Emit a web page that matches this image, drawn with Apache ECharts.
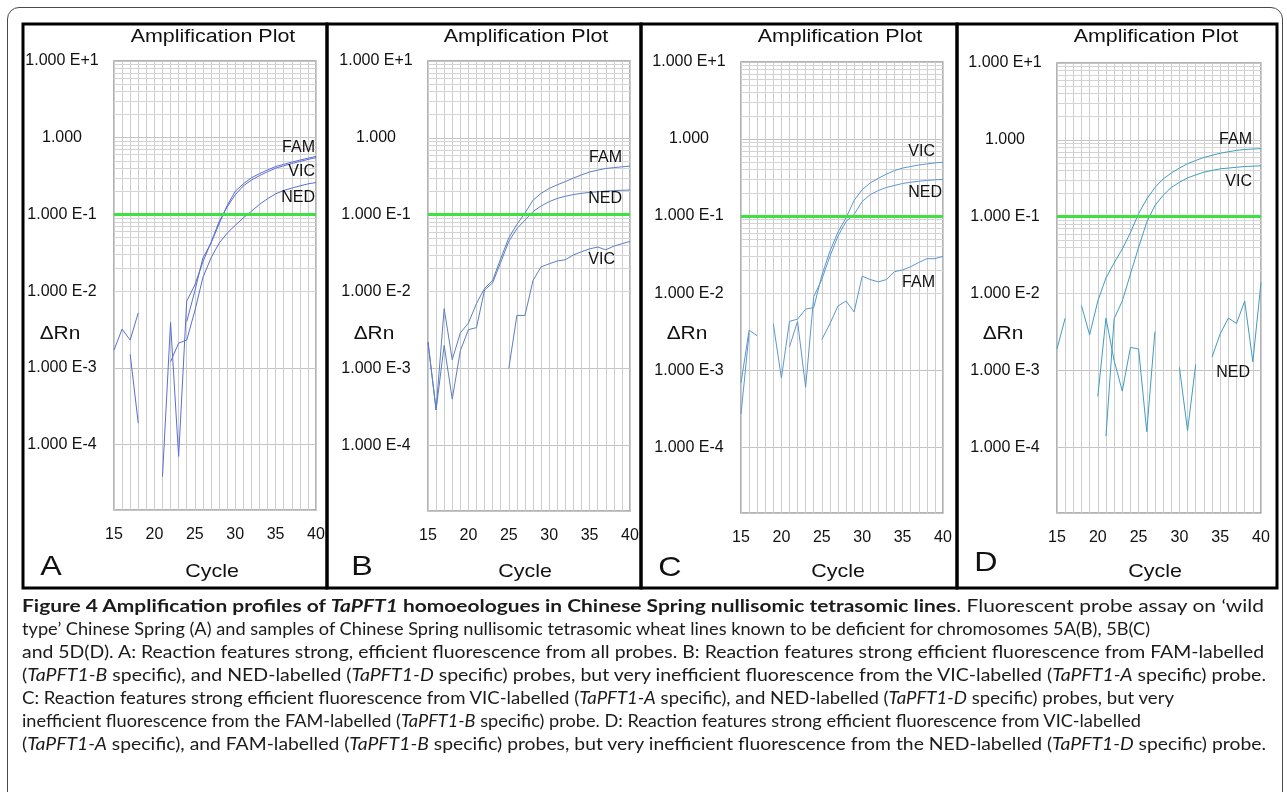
<!DOCTYPE html>
<html>
<head>
<meta charset="utf-8">
<title>Figure 4 - Amplification profiles</title>
<script src="https://cdn.jsdelivr.net/npm/echarts@6/dist/echarts.min.js"></script>
<style>
    html, body { margin: 0; padding: 0; background: #fff; }
    #page { position: relative; width: 1287px; height: 792px; overflow: hidden; }
    #chart { position: absolute; left: 0; top: 0; width: 1287px; height: 600px; }
    #frame { position: absolute; left: 7px; top: 7px; width: 1276px; height: 830px; box-sizing: border-box;
             border: 1px solid #4a4a4a; border-radius: 12px; pointer-events: none; }
    #caption { position: absolute; left: 22px; top: 595px; font-family: "Lato", "Open Sans", sans-serif;
               font-size: 16.5px; line-height: 23px; color: #1c1a1b; }
    #caption .row { height: 23px; }
    #caption .ln { display: inline-block; white-space: nowrap; transform-origin: 0 0; }
</style>
</head>
<body>
<div id="page">
    <div id="chart"></div>
    <div id="frame"></div>
    <div id="caption">
        <div class="row"><span class="ln" data-w="1242"><b>Figure 4 Amplification profiles of <i>TaPFT1</i> homoeologues in Chinese Spring nullisomic tetrasomic lines</b>. Fluorescent probe assay on ‘wild</span></div>
        <div class="row"><span class="ln" data-w="1128">type’ Chinese Spring (A) and samples of Chinese Spring nullisomic tetrasomic wheat lines known to be deficient for chromosomes 5A(B), 5B(C)</span></div>
        <div class="row"><span class="ln" data-w="1242">and 5D(D). A: Reaction features strong, efficient fluorescence from all probes. B: Reaction features strong efficient fluorescence from FAM-labelled</span></div>
        <div class="row"><span class="ln" data-w="1244">(<i>TaPFT1-B</i> specific), and NED-labelled (<i>TaPFT1-D</i> specific) probes, but very inefficient fluorescence from the VIC-labelled (<i>TaPFT1-A</i> specific) probe.</span></div>
        <div class="row"><span class="ln" data-w="1152">C: Reaction features strong efficient fluorescence from VIC-labelled (<i>TaPFT1-A</i> specific), and NED-labelled (<i>TaPFT1-D</i> specific) probes, but very</span></div>
        <div class="row"><span class="ln" data-w="1119">inefficient fluorescence from the FAM-labelled (<i>TaPFT1-B</i> specific) probe. D: Reaction features strong efficient fluorescence from VIC-labelled</span></div>
        <div class="row"><span class="ln" data-w="1244">(<i>TaPFT1-A</i> specific), and FAM-labelled (<i>TaPFT1-B</i> specific) probes, but very inefficient fluorescence from the NED-labelled (<i>TaPFT1-D</i> specific) probe.</span></div>
    </div>
</div>
<script>
// cycle numbers on the x axis
const cycles = [15, 16, 17, 18, 19, 20, 21, 22, 23, 24, 25, 26, 27, 28, 29, 30, 31, 32, 33, 34, 35, 36, 37, 38, 39, 40];
const xTickLabels = [15, 20, 25, 30, 35, 40];
// decade labels, exponent -4 .. +1
const yTickLabels = ['1.000 E-4', '1.000 E-3', '1.000 E-2', '1.000 E-1', '1.000', '1.000 E+1'];
const probeNames = ['FAM', 'VIC', 'NED'];
const panelLetters = ['A', 'B', 'C', 'D'];
const threshold = 0.1;

// ΔRn per cycle, null = not plotted (below zero)
// A: wild type
const aFam = [1.7e-3, 3.2e-3, 2.3e-3, 5.2e-3, null, null, null, null, null, 4.0e-3, 0.010, 0.027, 0.042, 0.075, 0.13, 0.20, 0.25, 0.30, 0.34, 0.38, 0.42, 0.45, 0.48, 0.51, 0.54, 0.57];
const aVic = [null, null, null, null, null, null, 3.8e-5, 3.9e-3, 7.0e-5, 7.4e-3, 0.012, 0.024, 0.043, 0.08, 0.125, 0.18, 0.235, 0.28, 0.32, 0.36, 0.40, 0.43, 0.46, 0.49, 0.52, 0.55];
const aNed = [null, null, 1.5e-3, 1.9e-4, null, null, null, 1.2e-3, 2.1e-3, 2.3e-3, 5.5e-3, 0.015, 0.027, 0.042, 0.057, 0.072, 0.09, 0.11, 0.135, 0.16, 0.185, 0.205, 0.22, 0.235, 0.25, 0.26];
// B: nulli 5A
const bFam = [2.2e-3, 2.9e-4, 6.0e-3, 1.3e-3, 2.9e-3, 3.9e-3, 7.0e-3, 0.011, 0.014, 0.027, 0.05, 0.075, 0.105, 0.155, 0.19, 0.22, 0.245, 0.27, 0.30, 0.33, 0.36, 0.38, 0.40, 0.41, 0.42, 0.43];
const bVic = [null, null, null, null, null, null, null, null, null, null, 1.0e-3, 4.9e-3, 4.9e-3, 0.014, 0.021, 0.023, 0.025, 0.026, 0.030, 0.033, 0.036, 0.038, 0.035, 0.039, 0.042, 0.045];
const bNed = [2.2e-3, 2.9e-4, 2.0e-3, 4.0e-4, 1.7e-3, 3.2e-3, 3.4e-3, 0.0105, 0.013, 0.024, 0.045, 0.066, 0.085, 0.11, 0.13, 0.148, 0.163, 0.174, 0.183, 0.19, 0.195, 0.199, 0.203, 0.206, 0.208, 0.21];
// C: nulli 5B
const cFam = [null, null, null, null, null, null, null, null, null, null, 2.5e-3, 4.0e-3, 6.8e-3, 7.9e-3, 5.7e-3, 0.0166, 0.015, 0.014, 0.015, 0.019, 0.02, 0.022, 0.025, 0.028, 0.028, 0.03];
const cVic = [6.8e-4, 3.3e-3, 2.8e-3, null, 4.0e-3, 7.9e-4, 4.3e-3, 4.6e-3, 6.2e-3, 6.5e-3, 0.017, 0.035, 0.062, 0.095, 0.16, 0.22, 0.27, 0.31, 0.35, 0.39, 0.42, 0.44, 0.46, 0.475, 0.49, 0.50];
const cNed = [2.7e-4, 3.0e-3, null, null, null, null, 2.0e-3, 4.3e-3, 6.0e-4, 0.009, 0.015, 0.03, 0.055, 0.085, 0.105, 0.155, 0.19, 0.215, 0.235, 0.25, 0.265, 0.275, 0.283, 0.29, 0.295, 0.30];
// D: nulli 5D
const dFam = [1.9e-3, 4.8e-3, null, 7.0e-3, 2.9e-3, 8.0e-3, 0.016, 0.025, 0.038, 0.062, 0.11, 0.17, 0.24, 0.31, 0.37, 0.43, 0.49, 0.54, 0.59, 0.63, 0.67, 0.70, 0.73, 0.75, 0.76, 0.77];
const dVic = [null, null, null, null, null, null, 1.4e-4, 4.7e-3, 8.0e-3, 0.018, 0.04, 0.085, 0.14, 0.19, 0.24, 0.28, 0.32, 0.35, 0.38, 0.40, 0.42, 0.43, 0.44, 0.45, 0.455, 0.46];
const dNed = [null, null, null, null, null, 4.6e-4, 4.8e-3, 1.35e-3, 5.4e-4, 2.0e-3, 1.9e-3, 1.6e-4, 3.2e-3, null, null, 1.1e-3, 1.65e-4, 1.2e-3, null, 1.5e-3, 3.0e-3, 4.8e-3, 4.1e-3, 8.0e-3, 1.3e-3, 0.014];

const panelValues = [[aFam, aVic, aNed], [bFam, bVic, bNed], [cFam, cVic, cNed], [dFam, dVic, dNed]];

// ---- layout (pixels) ----
const FONT = '"Liberation Sans", Arial, sans-serif';
const yMin = 1.4e-5, yMax = 10;
const layout = [
    {box: [23, 24, 304, 564], grid: {left: 114, top: 61, width: 202, height: 449}, color: '#5b6dd4', title: 213, delta: 60,  cycle: 212,  letter: [51, 567],
     labels: [['FAM', 315, 148], ['VIC', 315, 172], ['NED', 315, 198]]},
    {box: [327, 24, 314, 564], grid: {left: 428, top: 61, width: 202, height: 450}, color: '#5a7fc2', title: 526, delta: 374, cycle: 525,  letter: [362, 567],
     labels: [['FAM', 622, 158], ['NED', 622, 199], ['VIC', 615, 260]]},
    {box: [641, 24, 316, 564], grid: {left: 741, top: 62, width: 202, height: 451}, color: '#5b98cf', title: 840, delta: 687, cycle: 838,  letter: [670, 568],
     labels: [['VIC', 935, 152], ['NED', 942, 193], ['FAM', 935, 283]]},
    {box: [957, 24, 320, 564], grid: {left: 1057, top: 63, width: 204, height: 450}, color: '#3f9dc2', title: 1156, delta: 1003, cycle: 1155, letter: [986, 563],
     labels: [['FAM', 1252, 140], ['VIC', 1252, 182], ['NED', 1250, 373]]}
];

// 对数坐标的次网格线 2..9 x 10^k
function minorGridValues() {
    const out = [];
    for (let k = -5; k <= 0; k++) {
        for (let m = 2; m <= 9; m++) {
            const v = m * Math.pow(10, k);
            if (v > yMin && v < yMax) out.push({yAxis: v});
        }
    }
    return out;
}

function yLabel(v) {
    const lg = Math.log10(v);
    const k = Math.round(lg);
    if (Math.abs(lg - k) > 1e-6) return '';
    return yTickLabels[k + 4] || '';
}

function text(x, y, str, size, extra) {
    return Object.assign({
        type: 'text', x: x, y: y, silent: true, z: 20,
        style: {text: str, fill: '#111', fontSize: size, fontFamily: FONT, align: 'center', verticalAlign: 'middle'}
    }, extra || {});
}

const grids = [], xAxes = [], yAxes = [], series = [], graphics = [];

layout.forEach((L, i) => {
    grids.push(Object.assign({show: true, borderColor: '#9a9a9a', borderWidth: 1.5, backgroundColor: '#fff'}, L.grid));

    xAxes.push({
        type: 'value', gridIndex: i, min: 15, max: 40, interval: 1,
        axisLine: {show: false}, axisTick: {show: false},
        axisLabel: {
            interval: 0, margin: 17, fontSize: 16, color: '#111', fontFamily: FONT,
            formatter: v => (xTickLabels.indexOf(v) >= 0 ? String(v) : '')
        },
        splitLine: {show: true, lineStyle: {color: '#cdcdcd', width: 1}}
    });

    yAxes.push({
        type: 'log', logBase: 10, gridIndex: i, min: yMin, max: yMax,
        axisLine: {show: false}, axisTick: {show: false},
        axisLabel: {align: 'center', margin: 52, fontSize: 16, color: '#111', fontFamily: FONT, formatter: yLabel},
        splitLine: {show: true, lineStyle: {color: '#c4c4c4', width: 1}}
    });

    // 次网格线（放在曲线下面）
    series.push({
        type: 'line', xAxisIndex: i, yAxisIndex: i, data: [], silent: true, z: 1,
        markLine: {
            silent: true, z: 1, animation: false, symbol: ['none', 'none'],
            label: {show: false},
            lineStyle: {color: '#d4d4d4', width: 1, type: 'solid'},
            data: minorGridValues()
        }
    });

    probeNames.forEach((name, j) => {
        const vals = panelValues[i][j];
        const s = {
            name: panelLetters[i] + ' ' + name, type: 'line', xAxisIndex: i, yAxisIndex: i,
            data: cycles.map((c, k) => [c, vals[k]]),
            symbol: 'none', showSymbol: false, connectNulls: false, silent: true, z: 3,
            animation: false,
            lineStyle: {color: L.color, width: 1}
        };
        if (j === 0) {
            // 阈值线 (green)
            s.markLine = {
                silent: true, animation: false, symbol: ['none', 'none'],
                label: {show: false},
                lineStyle: {color: '#3ee23e', width: 3, type: 'solid'},
                data: [{yAxis: threshold}]
            };
        }
        series.push(s);
    });

    // panel frame
    graphics.push({
        type: 'rect', silent: true, z: 30,
        shape: {x: L.box[0], y: L.box[1], width: L.box[2], height: L.box[3]},
        style: {fill: 'none', stroke: '#000', lineWidth: 3}
    });
    graphics.push(text(L.title, 37, 'Amplification Plot', 19, {scaleX: 1.13}));
    graphics.push(text(L.delta, 334, 'ΔRn', 19, {scaleX: 1.1}));
    graphics.push(text(L.cycle, 572, 'Cycle', 19, {scaleX: 1.13}));
    graphics.push(text(L.letter[0], L.letter[1], panelLetters[i], 28, {scaleX: 1.15}));
    L.labels.forEach(lb => {
        const t = text(lb[1], lb[2], lb[0], 16);
        t.style.align = 'right';
        graphics.push(t);
    });
});

const chart = echarts.init(document.getElementById('chart'));
chart.setOption({
    animation: false,
    backgroundColor: 'transparent',
    grid: grids,
    xAxis: xAxes,
    yAxis: yAxes,
    series: series,
    graphic: graphics
});

// stretch each caption line to its measured width
function fitCaption() {
    document.querySelectorAll('#caption .ln').forEach(el => {
        el.style.transform = 'none';
        const w = el.getBoundingClientRect().width;
        const target = Number(el.dataset.w);
        if (w > 0) el.style.transform = 'scaleX(' + (target / w).toFixed(4) + ')';
    });
}
fitCaption();
if (document.fonts && document.fonts.ready) document.fonts.ready.then(fitCaption);
</script>
</body>
</html>
